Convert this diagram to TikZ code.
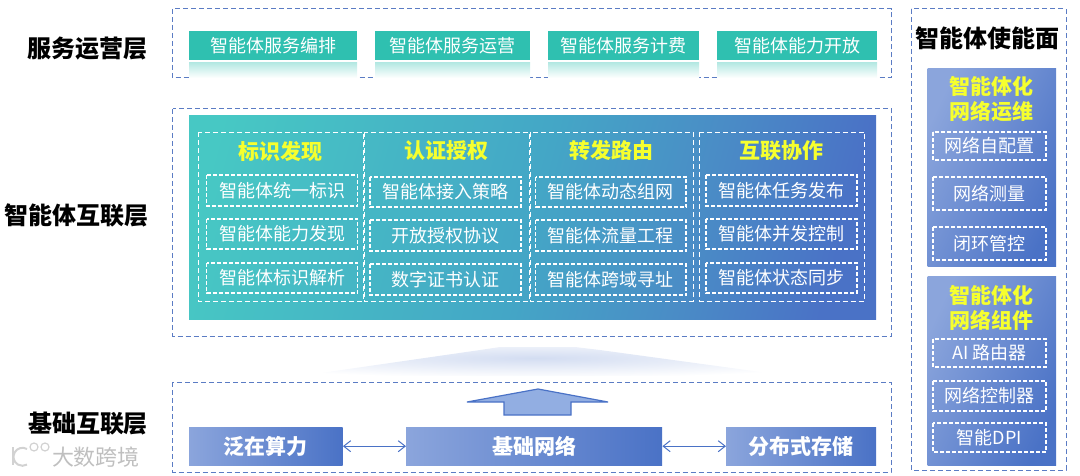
\documentclass[tikz,border=0pt]{standalone}
\usepackage{fontspec}
\setmainfont{Noto Sans CJK SC}
\definecolor{Dashcol}{HTML}{5B7CC4}
\definecolor{Tealcol}{HTML}{2FC0B0}
\definecolor{Aquacol}{HTML}{47C8C4}
\definecolor{Midcol}{HTML}{44A6C6}
\definecolor{Skycol}{HTML}{4A8CC6}
\definecolor{Bluecol}{HTML}{4A72C6}
\definecolor{Palecol}{HTML}{8BA5DC}
\definecolor{Arrowcol}{HTML}{92AEE2}
\definecolor{Titlecol}{HTML}{F6FF2E}
\usetikzlibrary{arrows.meta}
\pgfdeclarehorizontalshading{agentgrad}{100bp}{color(0bp)=(Aquacol); color(22bp)=(Aquacol); color(50bp)=(Midcol); color(64bp)=(Skycol); color(76bp)=(Bluecol); color(100bp)=(Bluecol)}
\tikzset{
    layerbox/.style={draw=Dashcol, dash pattern=on 5pt off 3pt, line width=1pt},
    layerlabel/.style={font=\fontsize{24}{24}\selectfont\bfseries, text=black},
    servicebox/.style={fill=Tealcol, text=white, font=\fontsize{18}{18}\selectfont},
    whitebox/.style={draw=white, dash pattern=on 4pt off 2pt, line width=1.1pt, text=white, font=\fontsize{18}{18}\selectfont},
    whitegroup/.style={draw=white, dash pattern=on 5pt off 3pt, line width=0.9pt},
    bluebox/.style={left color=Palecol, right color=Bluecol, text=white, font=\fontsize{21}{21}\selectfont\bfseries},
    titletext/.style={text=Titlecol, font=\fontsize{21}{25}\selectfont\bfseries, align=center},
    linkarrow/.style={{Straight Barb[length=7pt,width=11pt]}-{Straight Barb[length=7pt,width=11pt]}, draw=Bluecol, line width=1pt},
    logomark/.style={draw=gray!35, line width=2pt}
}
\begin{document}
\begin{tikzpicture}[x=1pt, y=-1pt]
    \useasboundingbox (0,0) rectangle (1080,476);

    % Glow under the middle layer
    \begin{scope}
        \clip (300,376) -- (480,350) -- (500,347) -- (575,347) -- (600,350) -- (790,376) -- cycle;
        \shade[inner color=Palecol!38, outer color=white] (535,358) ellipse (330pt and 20pt);
    \end{scope}

    % Service layer
    \draw[layerbox] (172.5,9) rectangle (891,78);
    \node[layerlabel] at (87.5,49) {服务运营层};
    \foreach \xa/\xb/\name/\txt in {189/357/orch/智能体服务编排, 375/530/oper/智能体服务运营, 548/699/bill/智能体服务计费, 717/877/open/智能体能力开放}{
        \fill[top color=Tealcol!35, bottom color=white] (\xa,63) rectangle (\xb,78);
        \node[servicebox, minimum width=\xb pt-\xa pt, minimum height=29pt, inner sep=0pt, anchor=north west] (\name) at (\xa,31) {\txt};
    }

    % Agent interconnect layer
    \draw[layerbox] (172.5,109) rectangle (891,336);
    \node[layerlabel] at (76.5,215) {智能体互联层};
    \shade[shading=agentgrad, shading angle=-15] (189,116) rectangle (876,319);
    \foreach \xa/\xb in {198/363, 364/529, 530/693, 699.5/864.5}{
        \draw[whitegroup] (\xa,132) rectangle (\xb,301);
    }
    \node[titletext] at (280,151) {标识发现};
    \node[titletext] at (446.5,151) {认证授权};
    \node[titletext] at (611.5,151) {转发路由};
    \node[titletext] at (781,151) {互联协作};
    \foreach \xa/\xb/\ya/\yb/\name/\txt in {
        206.5/357.5/175/206/ida/智能体统一标识, 206.5/357.5/219/249/idb/智能体能力发现, 206.5/357.5/263/293/idc/智能体标识解析,
        370/521/177/207/aua/智能体接入策略, 370/521/220/251/aub/开放授权协议, 370/521/264/295/auc/数字证书认证,
        535.5/686/177/207/roa/智能体动态组网, 535.5/686/220/251/rob/智能体流量工程, 535.5/686/264/295/roc/智能体跨域寻址,
        706/857/175/206/coa/智能体任务发布, 706/857/219/249/cob/智能体并发控制, 706/857/263/293/coc/智能体状态同步}{
        \draw[whitebox] (\xa,\ya) rectangle (\xb,\yb) node[midway, inner sep=0pt] (\name) {\txt};
    }

    % Base layer
    \draw[layerbox] (172.5,382) rectangle (891,472);
    \node[layerlabel] at (88,424) {基础互联层};
    % Site mark
    \draw[logomark] (13,447) -- (13,465);
    \draw[logomark] (27,449) arc (60:300:9pt and 9pt);
    \draw[logomark, line width=1.2pt] (34,447) circle (4pt) (45,447) circle (4pt);
    \node[text=gray!50, font=\fontsize{22}{22}\selectfont] at (96,457) {大数跨境};
    \draw[fill=Arrowcol, draw=Bluecol, line width=1.2pt] (538,389) -- (608,402) -- (571,402) -- (571,415) -- (504,415) -- (504,402) -- (467,402) -- cycle;
    \node[bluebox, minimum width=153.5pt, minimum height=38pt, inner sep=0pt, anchor=north west] (comp) at (189,427) {泛在算力};
    \node[bluebox, minimum width=256pt, minimum height=38pt, inner sep=0pt, anchor=north west] (net) at (406,427) {基础网络};
    \node[bluebox, minimum width=150pt, minimum height=38pt, inner sep=0pt, anchor=north west] (store) at (726,427) {分布式存储};
    \draw[linkarrow] (comp) -- (net);
    \draw[linkarrow] (net) -- (store);

    % Enabling plane
    \draw[layerbox] (911,9) rectangle (1066,470);
    \node[layerlabel] at (987,38) {智能体使能面};
    \shade[shading=axis, left color=Palecol, right color=Bluecol, shading angle=65] (927.5,69) rectangle (1056,266);
    \shade[shading=axis, left color=Palecol, right color=Bluecol, shading angle=65] (927.5,276) rectangle (1056,465);
    \node[titletext] at (991,99.5) {智能体化\\网络运维};
    \node[titletext] at (991,307.5) {智能体化\\网络组件};
    \foreach \ya/\yb/\name/\txt in {132/160/opa/网络自配置, 177/210/opb/网络测量, 227/260/opc/闭环管控, 339/367/cma/AI 路由器, 381/411/cmb/网络控制器, 423/452/cmc/智能DPI}{
        \draw[whitebox] (933,\ya) rectangle (1046,\yb) node[midway, inner sep=0pt] (\name) {\txt};
    }
\end{tikzpicture}
\end{document}
